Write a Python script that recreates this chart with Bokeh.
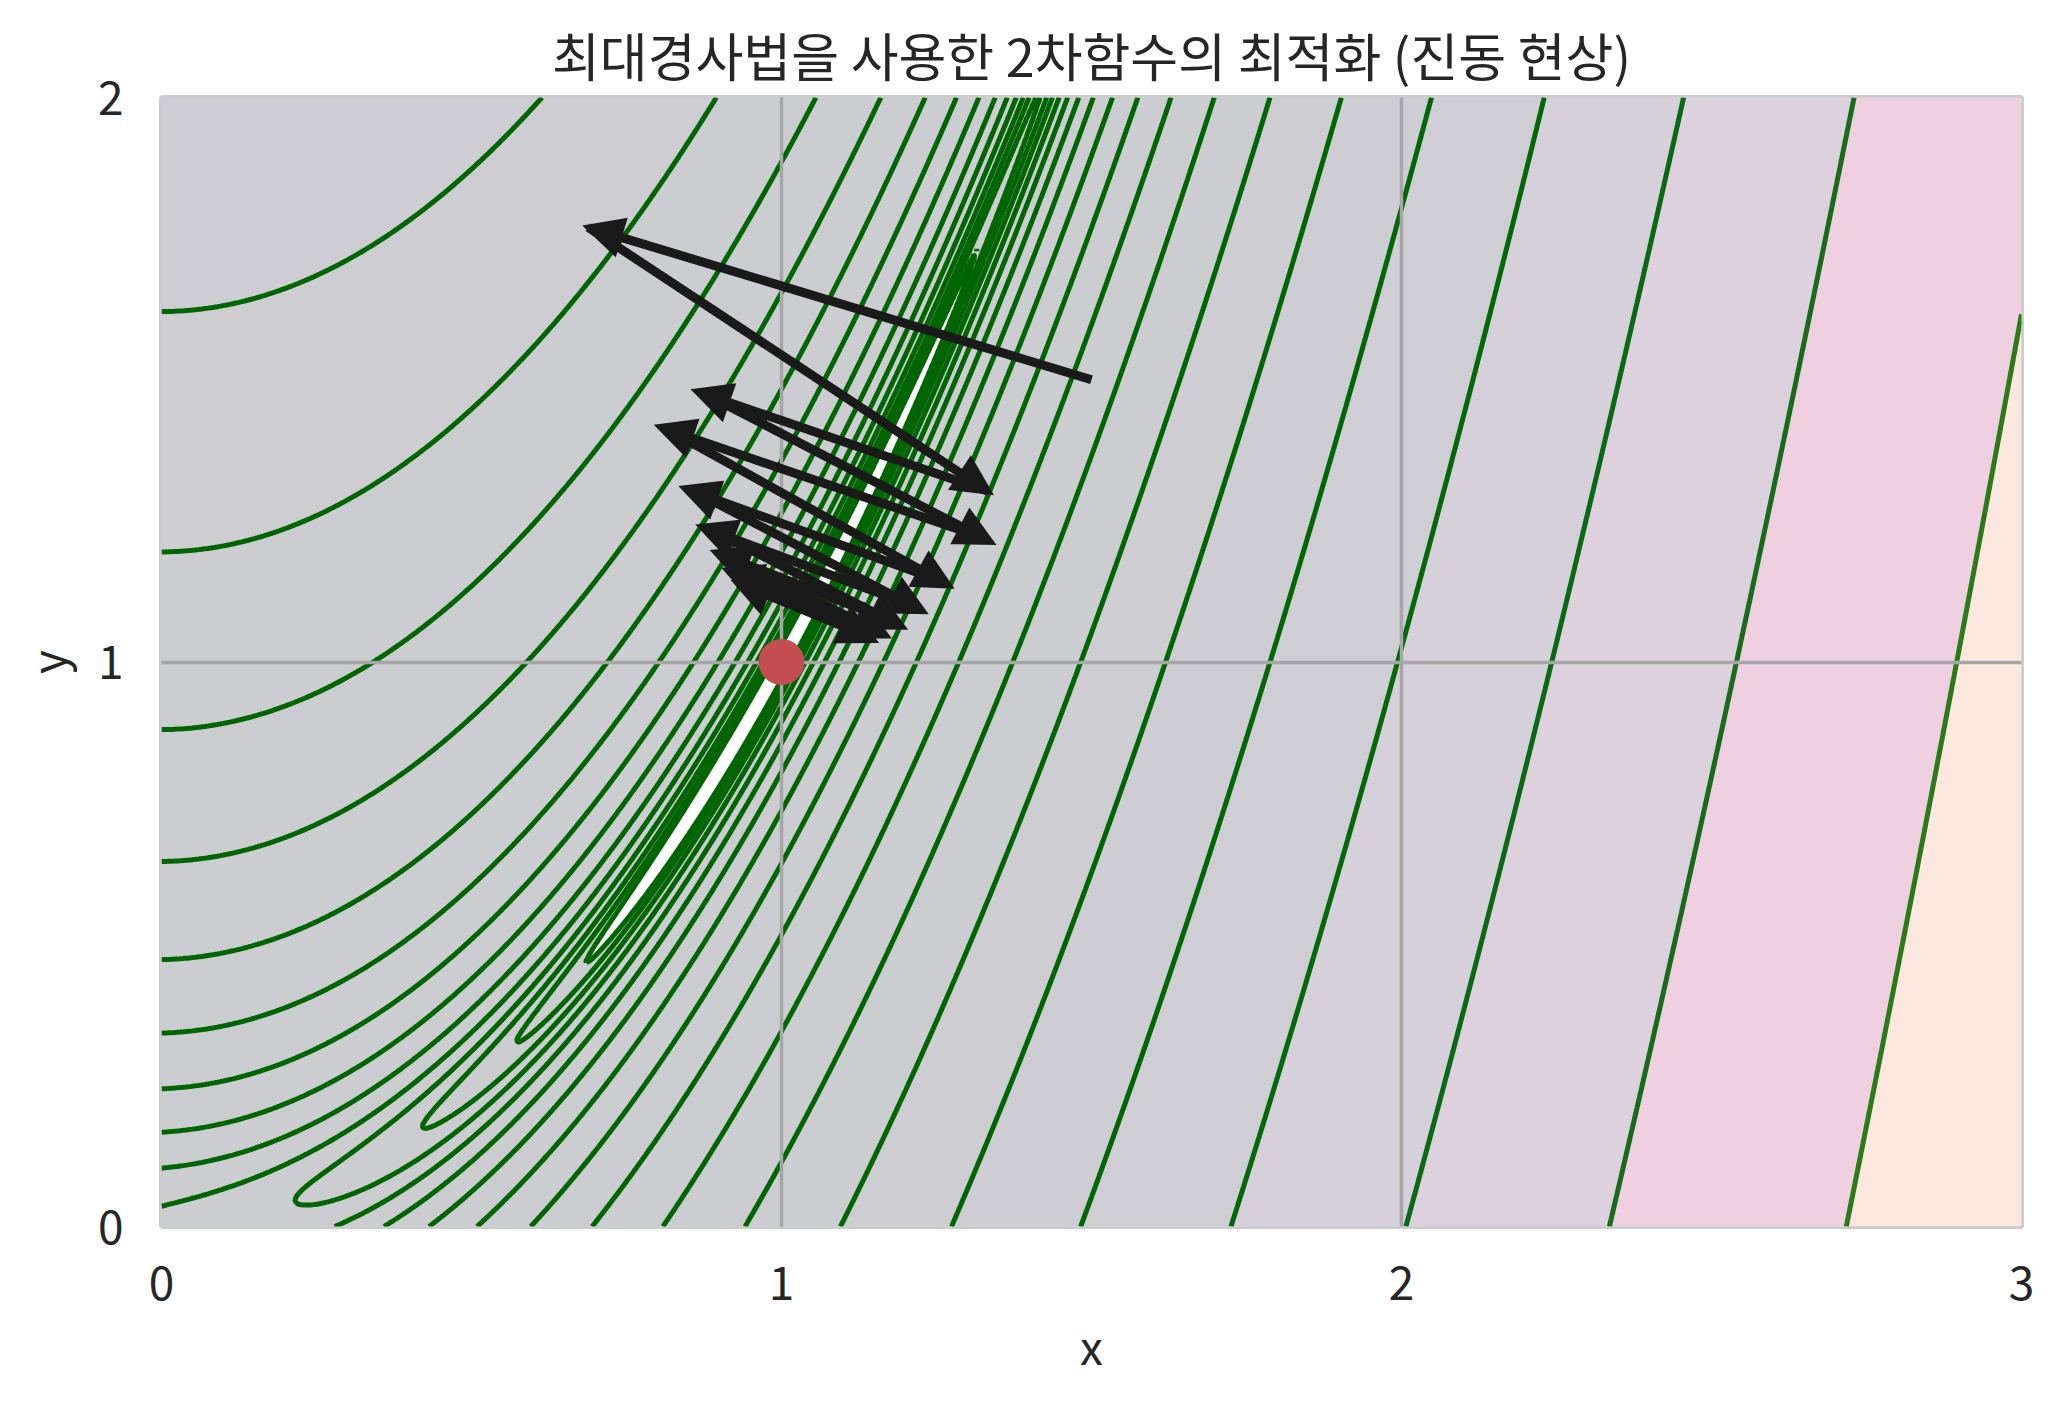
import numpy as np
from bokeh.plotting import figure
from bokeh.models import Range1d, FixedTicker, Arrow, NormalHead, ColumnDataSource
from bokeh.embed import file_html
from bokeh.resources import INLINE

FONT = "Noto Sans CJK KR"
TEXT = "#262626"

TITLE = "최대경사법을 사용한 2차함수의 최적화 (진동 현상)"
X_TICKS = [0, 1, 2, 3]
Y_TICKS = [0, 1, 2]

# contour field: f(x, y) = (1 - x)^2 + 100 (y - x^2)^2 on the visible window
GRID_X = np.linspace(0, 3, 601)
GRID_Y = np.linspace(0, 2, 401)

LEVELS = [0.1, 0.1833, 0.336, 0.6158, 1.129, 2.069, 3.793, 6.952, 12.74, 23.36,
          42.81, 78.48, 143.8, 263.7, 483.3, 885.9, 1624, 2976, 5456, 10000]

# optimisation path (start point, then each step)
PATH_X = [1.500, 0.688, 1.332, 0.880, 1.323, 0.818, 1.256, 0.863,
          1.209, 0.894, 1.172, 0.920, 1.143, 0.941, 1.120, 0.958]
PATH_Y = [1.500, 1.770, 1.303, 1.473, 1.221, 1.411, 1.144, 1.300,
          1.101, 1.230, 1.075, 1.183, 1.061, 1.150, 1.054, 1.127]

MIN_X = [1.0]
MIN_Y = [1.0]

FILL_COLORS = ["#cccdd0"] * 10 + ["#cccdd0", "#cccdd1", "#cdcdd2", "#cdcdd3",
                                   "#cfced5", "#d5d0d9", "#ddd1dd", "#eed0e0", "#fce8df"]
LINE_COLORS = ["#006502"] * 14 + ["#026604", "#046809", "#0a6a13", "#176c1a",
                                  "#2a7a18", "#2a7a18"]

X, Y = np.meshgrid(GRID_X, GRID_Y)
Z = (1 - X) ** 2 + 100.0 * (Y - X ** 2) ** 2

p = figure(
    frame_width=1860, frame_height=1129,
    min_border_left=161, min_border_right=30, min_border_top=97, min_border_bottom=150,
    x_range=Range1d(0, 3), y_range=Range1d(0, 2),
    output_backend="svg", toolbar_location=None,
    background_fill_color="white", border_fill_color="white",
    outline_line_color="#cccccc", outline_line_width=5,
)

p.contour(GRID_X, GRID_Y, Z, LEVELS, fill_color=FILL_COLORS,
          line_color=LINE_COLORS, line_width=5)

# arrows: shaft shortened to 95 %, head of 0.04 (data units) added at the end
S, HEAD_LEN = 0.95, 0.04
x0 = np.array(PATH_X[:-1]); y0 = np.array(PATH_Y[:-1])
dx = np.array(PATH_X[1:]) - x0; dy = np.array(PATH_Y[1:]) - y0
L = np.hypot(dx, dy)
k = (S * L + HEAD_LEN) / L
src = ColumnDataSource(dict(x0=x0, y0=y0, x1=x0 + k * dx, y1=y0 + k * dy))
p.add_layout(Arrow(
    source=src, x_start="x0", y_start="y0", x_end="x1", y_end="y1",
    line_color="#1a1a1a", line_width=9,
    end=NormalHead(size=30, fill_color="#1a1a1a", line_color="#1a1a1a",
                   line_width=7, line_join="miter"),
))

dot = p.scatter(MIN_X, MIN_Y, size=45, fill_color="#c44e52", line_color="#c44e52")
dot.level = "overlay"

p.title.text = TITLE
p.title.align = "center"
p.title.text_font = FONT
p.title.text_font_size = "52px"
p.title.text_font_style = "normal"
p.title.text_color = TEXT
p.title.standoff = 12

p.xaxis.ticker = FixedTicker(ticks=X_TICKS)
p.yaxis.ticker = FixedTicker(ticks=Y_TICKS)
p.xaxis.axis_label = "x"
p.yaxis.axis_label = "y"
for ax in (p.xaxis, p.yaxis):
    ax.axis_line_color = None
    ax.major_tick_line_color = None
    ax.minor_tick_line_color = None
    ax.major_tick_out = 0
    ax.minor_tick_out = 0
    ax.major_label_text_font = FONT
    ax.major_label_text_font_size = "46px"
    ax.major_label_text_color = TEXT
    ax.axis_label_text_font = FONT
    ax.axis_label_text_font_size = "46px"
    ax.axis_label_text_font_style = "normal"
    ax.axis_label_text_color = TEXT
p.xaxis.major_label_standoff = 39
p.yaxis.major_label_standoff = 38
p.xaxis.axis_label_standoff = 9
p.yaxis.axis_label_standoff = 16

for g in (p.xgrid, p.ygrid):
    g.grid_line_color = "#a6a6a8"
    g.grid_line_width = 3.5
    g.level = "guide"

open("out.html", "w").write(file_html(p, INLINE))
